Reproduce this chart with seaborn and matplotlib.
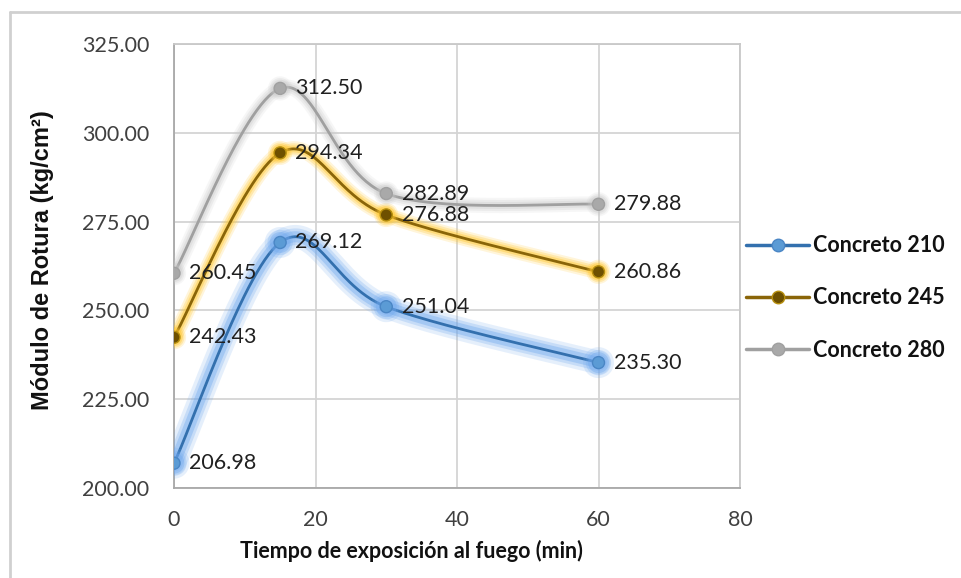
import numpy as np
import pandas as pd
import matplotlib
matplotlib.use("Agg")
import matplotlib.pyplot as plt
import matplotlib.patheffects as pe
from matplotlib.lines import Line2D
import seaborn as sns

# Exposure time (min) and modulus of rupture for each concrete mix
tiempo = [0, 15, 30, 60]
concreto_210 = [206.98, 269.12, 251.04, 235.30]
concreto_245 = [242.43, 294.34, 276.88, 260.86]
concreto_280 = [260.45, 312.50, 282.89, 279.88]
series_names = ["Concreto 210", "Concreto 245", "Concreto 280"]
x_ticks = [0, 20, 40, 60, 80]
y_ticks = [200, 225, 250, 275, 300, 325]

sns.set_theme(style="white")
plt.rcParams["font.family"] = ["Lato", "DejaVu Sans"]

W, H = 962, 578
fig = plt.figure(figsize=(W / 100, H / 100), dpi=100)
ax_l, ax_r, ax_t, ax_b = 174, 740, 44, 488
ax = fig.add_axes([ax_l / W, 1 - ax_b / H, (ax_r - ax_l) / W, (ax_b - ax_t) / H])

x_min, x_max, y_min, y_max = 0, 80, 200, 325
sx = (ax_r - ax_l) / (x_max - x_min)
sy = (ax_b - ax_t) / (y_max - y_min)


def smooth_curve(x, y, n=60):
    """Cubic Bezier smoothing through every point (Catmull-Rom style tangents)."""
    pts = np.column_stack([np.asarray(x, float) * sx, np.asarray(y, float) * sy])
    ext = np.vstack([pts[0], pts, pts[-1]])
    out = []
    t = np.linspace(0, 1, n)[:, None]
    for i in range(len(pts) - 1):
        p0, p1, p2, p3 = ext[i], ext[i + 1], ext[i + 2], ext[i + 3]
        c1 = p1 + (p2 - p0) / 6
        c2 = p2 - (p3 - p1) / 6
        seg = (1 - t) ** 3 * p1 + 3 * (1 - t) ** 2 * t * c1 + 3 * (1 - t) * t ** 2 * c2 + t ** 3 * p2
        out.append(seg if i == 0 else seg[1:])
    arr = np.vstack(out)
    return arr[:, 0] / sx, arr[:, 1] / sy


styles = {
    "Concreto 210": dict(line="#3370AE", face="#5B9BD5", edge="#4A86C5", glow="#6FA8EE", gw=[17, 12, 8], ga=[0.18, 0.26, 0.38]),
    "Concreto 245": dict(line="#8A6508", face="#6E5000", edge="#B8900E", glow="#FFC832", gw=[11, 8, 5], ga=[0.18, 0.28, 0.4]),
    "Concreto 280": dict(line="#A0A0A0", face="#A9A9A9", edge="#A0A0A0", glow="#C8C8C8", gw=[11, 8, 5], ga=[0.15, 0.22, 0.3]),
}
values = dict(zip(series_names, [concreto_210, concreto_245, concreto_280]))

for name in series_names:
    st = styles[name]
    ys = values[name]
    glow = [pe.Stroke(linewidth=w, foreground=st["glow"], alpha=a) for w, a in zip(st["gw"], st["ga"])]
    sxs, sys_ = smooth_curve(tiempo, ys)
    curve = pd.DataFrame({"t": sxs, "v": sys_})
    sns.lineplot(data=curve, x="t", y="v", ax=ax, sort=False, estimator=None,
                 color=st["line"], linewidth=2.0, zorder=3,
                 path_effects=glow + [pe.Normal()])
    pts = pd.DataFrame({"t": tiempo, "v": ys})
    mglow = [pe.Stroke(linewidth=w * 0.8, foreground=st["glow"], alpha=a) for w, a in zip(st["gw"], st["ga"])]
    sns.scatterplot(data=pts, x="t", y="v", ax=ax, s=75, color=st["face"],
                    edgecolor=st["edge"], linewidth=1.0, zorder=4,
                    path_effects=mglow + [pe.Normal()])
    for xv, yv in zip(tiempo, ys):
        ax.annotate(f"{yv:.2f}", (xv, yv), xytext=(11, 0), textcoords="offset points",
                    ha="left", va="center", fontsize=15.5, color="#202020", zorder=5)

ax.set_xlim(x_min, x_max)
ax.set_ylim(y_min, y_max)
ax.set_xticks(x_ticks)
ax.set_yticks(y_ticks)
ax.set_xticklabels([str(v) for v in x_ticks])
ax.set_yticklabels([f"{v:.2f}" for v in y_ticks])
ax.tick_params(axis="both", length=0, labelsize=15.5, colors="#404040")
ax.tick_params(axis="x", pad=16)
ax.tick_params(axis="y", pad=18)
ax.grid(True, color="#D4D4D4", linewidth=1.3)
ax.set_axisbelow(True)
for s in ax.spines.values():
    s.set_color("#C8C8C8")
    s.set_linewidth(1.3)
ax.spines["left"].set_color("#A8A8A8")
ax.spines["bottom"].set_color("#A8A8A8")

ax.set_xlabel("Tiempo de exposición al fuego (min)", fontsize=15.5, fontweight="bold", color="#111111")
ax.set_ylabel("Módulo de Rotura (kg/cm²)", family=["Liberation Sans", "DejaVu Sans"],
              fontsize=17, fontweight="bold", color="#111111")
# axis titles sit at their own spots rather than centred on the plot area
ax.xaxis.set_label_coords((411 - ax_l) / (ax_r - ax_l), -(551 - ax_b) / (ax_b - ax_t), transform=ax.transAxes)
ax.xaxis.label.set_va("center")
ax.yaxis.set_label_coords(-(ax_l - 42) / (ax_r - ax_l), (ax_b - 260) / (ax_b - ax_t), transform=ax.transAxes)
ax.yaxis.label.set_va("center")

handles = []
for name in series_names:
    st = styles[name]
    handles.append(Line2D([0], [0], color=st["line"], linewidth=2.5, marker="o", markersize=9,
                          markerfacecolor=st["face"], markeredgecolor=st["edge"]))
leg = fig.legend(handles, series_names, loc="center left", bbox_to_anchor=(727 / W, 1 - 298 / H),
                 frameon=False, handlelength=2.9, handletextpad=0.2, labelspacing=1.45,
                 prop={"size": 15.5, "weight": "bold"})
for txt in leg.get_texts():
    txt.set_color("#111111")

# thin frame lines along the top and left edge of the figure
fig.add_artist(Line2D([10 / W, 1], [1 - 12 / H, 1 - 12 / H], transform=fig.transFigure, color="#D0D0D0", linewidth=2))
fig.add_artist(Line2D([10 / W, 10 / W], [0, 1 - 12 / H], transform=fig.transFigure, color="#D0D0D0", linewidth=2))

fig.savefig("out.png", dpi=100)
